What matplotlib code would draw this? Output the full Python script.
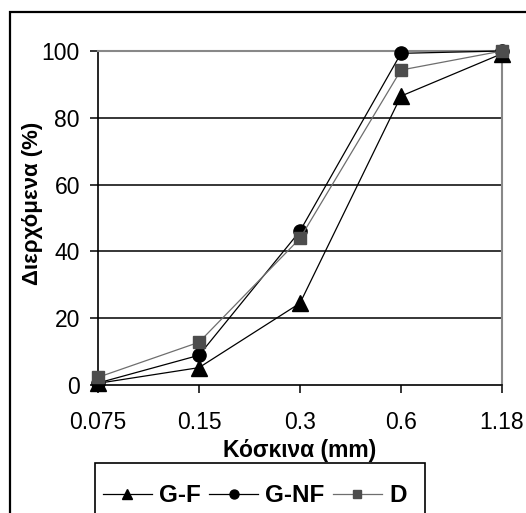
import matplotlib
matplotlib.use("Agg")
import matplotlib.pyplot as plt
from matplotlib.patches import Rectangle

plt.rcParams['font.family'] = ['Liberation Sans', 'DejaVu Sans']

sieves = ['0.075', '0.15', '0.3', '0.6', '1.18']
g_f = [0.5, 5.2, 24.5, 86.5, 99.2]
g_nf = [0.6, 8.9, 46.1, 99.3, 100]
d = [2.3, 12.8, 43.9, 94.3, 100]

W, H = 526, 513
fig = plt.figure(figsize=(W / 100, H / 100), dpi=100)
# outer chart frame (runs off the right and bottom edge)
fig.patches.append(Rectangle((10 / W, -0.1), 1.2, 1 - 12 / H + 0.1,
                             transform=fig.transFigure, fill=False,
                             edgecolor='black', linewidth=1.6))
# legend box (also cut by the bottom edge)
fig.patches.append(Rectangle((95 / W, -0.1), (425 - 95) / W, 1 - 463 / H + 0.1,
                             transform=fig.transFigure, fill=False,
                             edgecolor='black', linewidth=1.2))

ax = fig.add_axes([98 / W, 1 - 385 / H, (502 - 98) / W, (385 - 51) / H])
x = range(len(sieves))

ax.plot(x, g_f, color='black', lw=0.9, marker='^', ms=11, mfc='black',
        mec='black', label='G-F', clip_on=False, zorder=5)
ax.plot(x, g_nf, color='black', lw=0.9, marker='o', ms=9.5, mfc='black',
        mec='black', label='G-NF', clip_on=False, zorder=5)
ax.plot(x, d, color='#6e6e6e', lw=0.9, marker='s', ms=8.5, mfc='#4d4d4d',
        mec='#4d4d4d', label='D', clip_on=False, zorder=6)

ax.set_xlim(0, 4)
ax.set_ylim(0, 100)
ax.set_xticks(list(x))
ax.set_xticklabels(sieves)
ax.set_yticks([0, 20, 40, 60, 80, 100])
for yv in [20, 40, 60, 80]:
    ax.axhline(yv, color='black', lw=1.1, zorder=1)

ax.spines['top'].set_color('#888888')
ax.spines['right'].set_color('#888888')
ax.spines['top'].set_linewidth(1.5)
ax.spines['right'].set_linewidth(1.5)
ax.spines['left'].set_linewidth(1.2)
ax.spines['bottom'].set_linewidth(1.2)
ax.tick_params(axis='both', direction='out', length=6, width=1.1,
               labelsize=16.5)
ax.tick_params(axis='y', pad=7)
ax.tick_params(axis='x', pad=13)

ax.set_xlabel('Κόσκινα (mm)', fontsize=16.5, fontweight='bold', labelpad=3)
ax.set_ylabel('Διερχόμενα (%)', fontsize=16, fontweight='bold')
ax.yaxis.set_label_coords(-0.135, 0.545)

fig.legend(loc='center left', bbox_to_anchor=(103 / W, 1 - 496 / H),
           ncol=3, frameon=False, prop={'size': 17.5, 'weight': 'bold'},
           handlelength=2.0, handletextpad=0.3, columnspacing=0.35,
           borderpad=0, borderaxespad=0, markerscale=0.68)

fig.savefig('out.png', dpi=100)
